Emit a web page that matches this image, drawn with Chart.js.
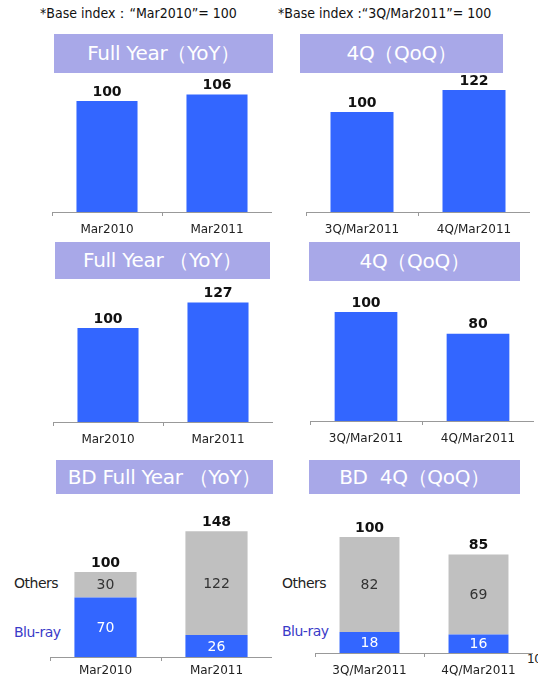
<!DOCTYPE html>
<html lang="en">
<head>
    <meta charset="UTF-8">
    <title>Index charts</title>
    <script src="https://cdn.jsdelivr.net/npm/chart.js@4/dist/chart.umd.min.js"></script>
    <style>
        body {
            margin: 0;
            width: 538px;
            height: 681px;
            background: #ffffff;
            position: relative;
            overflow: hidden;
            font-family: 'DejaVu Sans', sans-serif;
        }
        .note {
            position: absolute;
            top: 5px;
            font-family: 'DejaVu Sans Condensed', 'DejaVu Sans', sans-serif;
            font-stretch: condensed;
            font-size: 14px;
            color: #111;
            white-space: nowrap;
        }
        .title-box {
            position: absolute;
            background: #a8a8e8;
            color: #ffffff;
            font-size: 20px;
            text-align: center;
            white-space: nowrap;
            letter-spacing: -0.3px;
        }
        .side {
            position: absolute;
            font-size: 14px;
            letter-spacing: -0.5px;
        }
        canvas { position: absolute; }
    </style>
</head>
<body>
    <div class="note" style="left:40px">*Base index：“Mar2010”= 100</div>
    <div class="note" style="left:278px">*Base index :“3Q/Mar2011”= 100</div>

    <div class="title-box" style="left:54px;top:34px;width:219px;height:39px;line-height:39px">Full Year（YoY）</div>
    <div class="title-box" style="left:300px;top:34px;width:203px;height:39px;line-height:39px">4Q（QoQ）</div>
    <div class="title-box" style="left:55px;top:242px;width:215px;height:37px;line-height:37px">Full Year （YoY）</div>
    <div class="title-box" style="left:309px;top:242px;width:211px;height:39px;line-height:39px">4Q（QoQ）</div>
    <div class="title-box" style="left:56px;top:460px;width:217px;height:34px;line-height:34px">BD Full Year （YoY）</div>
    <div class="title-box" style="left:309px;top:460px;width:211px;height:34px;line-height:34px">BD&nbsp;&nbsp;4Q（QoQ）</div>

    <div class="side" style="left:14px;top:575px;color:#222">Others</div>
    <div class="side" style="left:14px;top:624px;color:#3a3ac8">Blu-ray</div>
    <div class="side" style="left:282px;top:575px;color:#222">Others</div>
    <div class="side" style="left:282px;top:623px;color:#3a3ac8">Blu-ray</div>
    <div class="side" style="left:527px;top:652px;color:#222;font-size:12px">10</div>

    <canvas id="c1" style="left:52px;top:70px" width="220" height="170"></canvas>
    <canvas id="c2" style="left:306px;top:70px" width="224" height="170"></canvas>
    <canvas id="c3" style="left:53px;top:285px" width="220" height="165"></canvas>
    <canvas id="c4" style="left:310px;top:285px" width="224" height="164"></canvas>
    <canvas id="c5" style="left:50px;top:500px" width="222" height="181"></canvas>
    <canvas id="c6" style="left:315px;top:500px" width="218" height="181"></canvas>

    <script>
        // data
        const yearLabels = ['Mar2010', 'Mar2011'];
        const quarterLabels = ['3Q/Mar2011', '4Q/Mar2011'];

        const salesYear = [100, 106];
        const salesQuarter = [100, 122];
        const profitYear = [100, 127];
        const profitQuarter = [100, 80];

        const bdYearBluray = [70, 26];
        const bdYearOthers = [30, 122];
        const bdYearTotal = [100, 148];
        const bdQuarterBluray = [18, 16];
        const bdQuarterOthers = [82, 69];
        const bdQuarterTotal = [100, 85];

        const BLUE = '#3366ff';
        const GRAY = '#c0c0c0';

        // prints the total above each bar and the segment values inside
        const valueLabels = {
            id: 'valueLabels',
            afterDatasetsDraw(chart, args, opts) {
                const ctx = chart.ctx;
                ctx.save();
                ctx.textAlign = 'center';
                ctx.textBaseline = 'middle';
                chart.data.datasets.forEach((ds, di) => {
                    if (!ds.inner) return;
                    const meta = chart.getDatasetMeta(di);
                    meta.data.forEach((bar, i) => {
                        ctx.font = '14px "DejaVu Sans"';
                        ctx.fillStyle = ds.innerColor;
                        ctx.fillText(ds.data[i], bar.x, (bar.y + bar.base) / 2 + 1);
                    });
                });
                const last = chart.getDatasetMeta(chart.data.datasets.length - 1);
                last.data.forEach((bar, i) => {
                    ctx.font = 'bold 14px "DejaVu Sans"';
                    ctx.fillStyle = '#111';
                    ctx.fillText(opts.totals[i], bar.x, bar.y - 9);
                });
                ctx.restore();
            }
        };

        function makeChart(id, labels, datasets, totals, yMax, barPct, axisH) {
            new Chart(document.getElementById(id), {
                type: 'bar',
                data: { labels, datasets },
                options: {
                    responsive: false,
                    animation: false,
                    layout: { padding: 0 },
                    datasets: { bar: { categoryPercentage: 1, barPercentage: barPct } },
                    plugins: {
                        legend: { display: false },
                        tooltip: { enabled: false },
                        valueLabels: { totals }
                    },
                    scales: {
                        x: {
                            stacked: true,
                            grid: {
                                offset: true,
                                drawOnChartArea: false,
                                tickLength: 4,
                                color: '#999'
                            },
                            border: { color: '#999' },
                            ticks: {
                                color: '#222',
                                padding: axisH - 21,
                                font: { family: 'DejaVu Sans', size: 12 }
                            },
                            afterFit(s) { s.height = axisH; }
                        },
                        y: {
                            stacked: true,
                            display: false,
                            min: 0,
                            max: yMax
                        }
                    }
                },
                plugins: [valueLabels]
            });
        }

        makeChart('c1', yearLabels,
            [{ data: salesYear, backgroundColor: BLUE }], salesYear, 128, 0.555, 28);
        makeChart('c2', quarterLabels,
            [{ data: salesQuarter, backgroundColor: BLUE }], salesQuarter, 142, 0.5625, 28);
        makeChart('c3', yearLabels,
            [{ data: profitYear, backgroundColor: BLUE }], profitYear, 145.7, 0.555, 28);
        makeChart('c4', quarterLabels,
            [{ data: profitQuarter, backgroundColor: BLUE }], profitQuarter, 124.8, 0.56, 28);
        makeChart('c5', yearLabels, [
            { data: bdYearBluray, backgroundColor: BLUE, inner: true, innerColor: '#ffffff' },
            { data: bdYearOthers, backgroundColor: GRAY, inner: true, innerColor: '#333333' }
        ], bdYearTotal, 184.7, 0.56, 24);
        makeChart('c6', quarterLabels, [
            { data: bdQuarterBluray, backgroundColor: BLUE, inner: true, innerColor: '#ffffff' },
            { data: bdQuarterOthers, backgroundColor: GRAY, inner: true, innerColor: '#333333' }
        ], bdQuarterTotal, 131.9, 0.55, 28);
    </script>
</body>
</html>
